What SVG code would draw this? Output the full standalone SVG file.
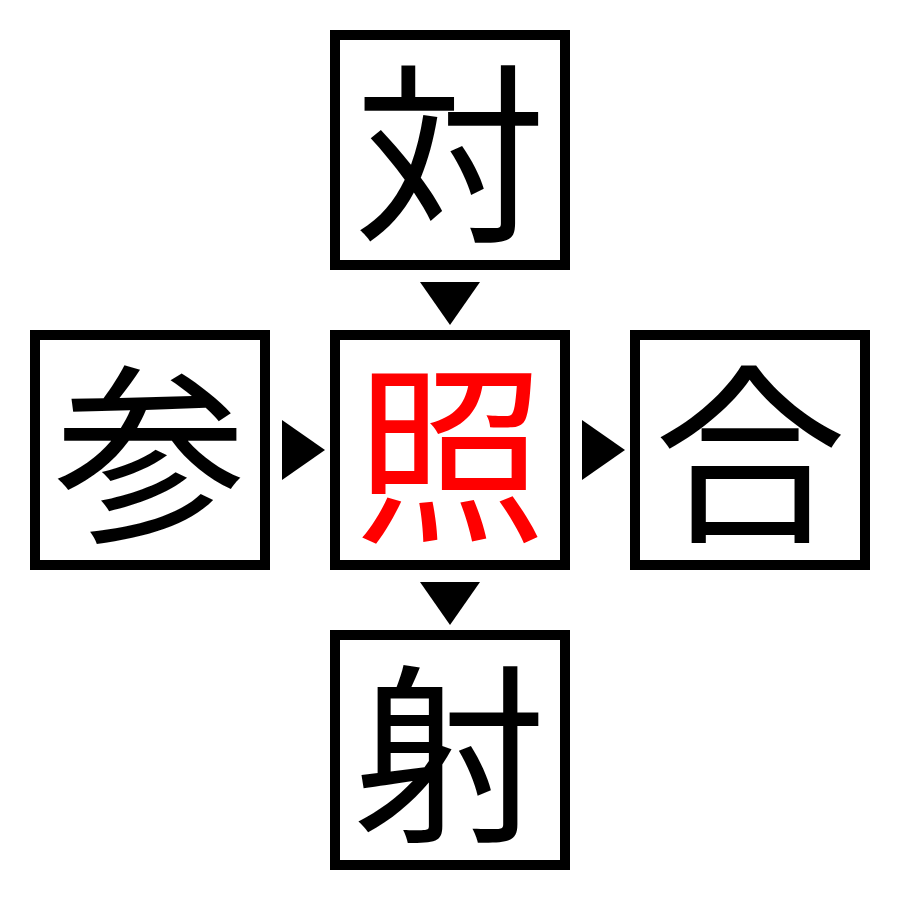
<svg xmlns="http://www.w3.org/2000/svg" width="900" height="900" viewBox="0 0 900 900">
<style>
.box{fill:#fff;stroke:#000;stroke-width:10}
.ch{font-family:"Noto Sans CJK JP","Noto Sans CJK SC",serif;font-size:192px;text-anchor:middle;dominant-baseline:central;fill:#000}
.red{fill:#ff0000}
.arr{fill:#000}
</style>
<rect width="900" height="900" fill="#fff"/>
<g id="node-top"><rect class="box" x="335" y="35" width="230" height="230"/><text class="ch" x="450" y="143">対</text></g>
<g id="node-left"><rect class="box" x="35" y="335" width="230" height="230"/><text class="ch" x="150" y="443">参</text></g>
<g id="node-center"><rect class="box" x="335" y="335" width="230" height="230"/><text class="ch red" x="450" y="443">照</text></g>
<g id="node-right"><rect class="box" x="635" y="335" width="230" height="230"/><text class="ch" x="750" y="443">合</text></g>
<g id="node-bottom"><rect class="box" x="335" y="635" width="230" height="230"/><text class="ch" x="450" y="743">射</text></g>
<g id="connectors">
<polygon class="arr" points="420,282 480,282 450,325"/>
<polygon class="arr" points="282,420 282,480 325,450"/>
<polygon class="arr" points="582,420 582,480 625,450"/>
<polygon class="arr" points="420,582 480,582 450,625"/>
</g>
</svg>
